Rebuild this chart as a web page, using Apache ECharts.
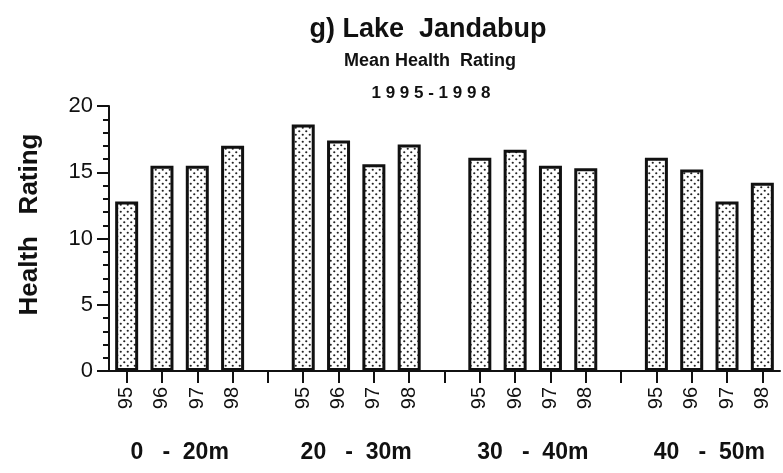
<!DOCTYPE html>
<html><head><meta charset="utf-8">
<script src="https://cdn.jsdelivr.net/npm/echarts@6/dist/echarts.min.js"></script>
<style>html,body{margin:0;padding:0;background:#fff}#c{width:783px;height:473px}</style>
</head><body><div id="c"></div>
<script>
var categories = ['95','96','97','98','', '95','96','97','98','', '95','96','97','98','', '95','96','97','98'];
var values = [12.8,15.5,15.5,17.0,null, 18.6,17.4,15.6,17.1,null, 16.1,16.7,15.5,15.3,null, 16.1,15.2,12.8,14.2];
var groupLabels = ['0   -  20m','20   -  30m','30   -  40m','40   -  50m'];
var groupCenters = [1.5, 6.5, 11.5, 16.5];
var yTicks = [0,5,10,15,20];

var positions = categories.map(function(c,i){return i;});
var barData = values.map(function(v,i){return [i, v];});

// dotted fill pattern
var tile = document.createElement('canvas');
tile.width = 7; tile.height = 7;
var tctx = tile.getContext('2d');
tctx.fillStyle = '#fff'; tctx.fillRect(0,0,7,7);
tctx.fillStyle = '#222';
tctx.beginPath(); tctx.arc(1.75,1.75,1.1,0,Math.PI*2); tctx.fill();
tctx.beginPath(); tctx.arc(5.25,5.25,1.1,0,Math.PI*2); tctx.fill();

var font = '"Liberation Sans", Arial, sans-serif';
var chart = echarts.init(document.getElementById('c'), null, {renderer:'canvas'});
chart.setOption({
  animation:false,
  backgroundColor:'#fff',
  title:[
    {text:'g) Lake  Jandabup', left:423, top:11, textAlign:'center',
     textStyle:{fontFamily:font, fontWeight:'bold', fontSize:27, color:'#111'}},
    {text:'Mean Health  Rating', left:425, top:47, textAlign:'center',
     textStyle:{fontFamily:font, fontWeight:'bold', fontSize:18, color:'#111'}},
    {text:'1 9 9 5 - 1 9 9 8', left:426, top:80, textAlign:'center',
     textStyle:{fontFamily:font, fontWeight:'bold', fontSize:17, color:'#111'}}
  ],
  grid:{left:109, right:3, top:106, bottom:102},
  xAxis:[{
    type:'value', position:'bottom', min:-0.5, max:18.5, z:10,
    axisLine:{onZero:false, lineStyle:{color:'#111', width:2}},
    axisTick:{show:true, customValues:positions, length:12, lineStyle:{color:'#111', width:2}},
    axisLabel:{customValues:positions, rotate:90, margin:16, fontFamily:font, fontSize:20, color:'#111',
      formatter:function(v){return categories[Math.round(v)] || '';}},
    splitLine:{show:false}
  },{
    type:'value', position:'bottom', min:-0.5, max:18.5, offset:62,
    axisLine:{show:false}, axisTick:{show:false}, splitLine:{show:false},
    axisLabel:{customValues:groupCenters, fontFamily:font, fontWeight:'bold', fontSize:23, color:'#111',
      formatter:function(v){var i=groupCenters.indexOf(v);return i>=0?groupLabels[i]:'';}}
  }],
  yAxis:{
    type:'value', min:0, max:20, interval:5,
    name:'Health   Rating', nameLocation:'middle', nameGap:66,
    nameTextStyle:{fontFamily:font, fontWeight:'bold', fontSize:26, color:'#111', padding:[0,0,0,28]},
    axisLine:{show:true, onZero:false, lineStyle:{color:'#111', width:2}},
    axisTick:{show:true, length:12, lineStyle:{color:'#111', width:2}},
    minorTick:{show:true, splitNumber:5, length:6, lineStyle:{color:'#111', width:2}},
    axisLabel:{fontFamily:font, fontSize:22, color:'#111', margin:16,
      formatter:function(v){return yTicks.indexOf(v)>=0?String(v):'';}},
    splitLine:{show:false}
  },
  series:[{
    type:'bar', data:barData, barWidth:23, xAxisIndex:0,
    itemStyle:{color:{image:tile, repeat:'repeat'}, borderColor:'#111', borderWidth:3}
  }]
});
</script></body></html>
